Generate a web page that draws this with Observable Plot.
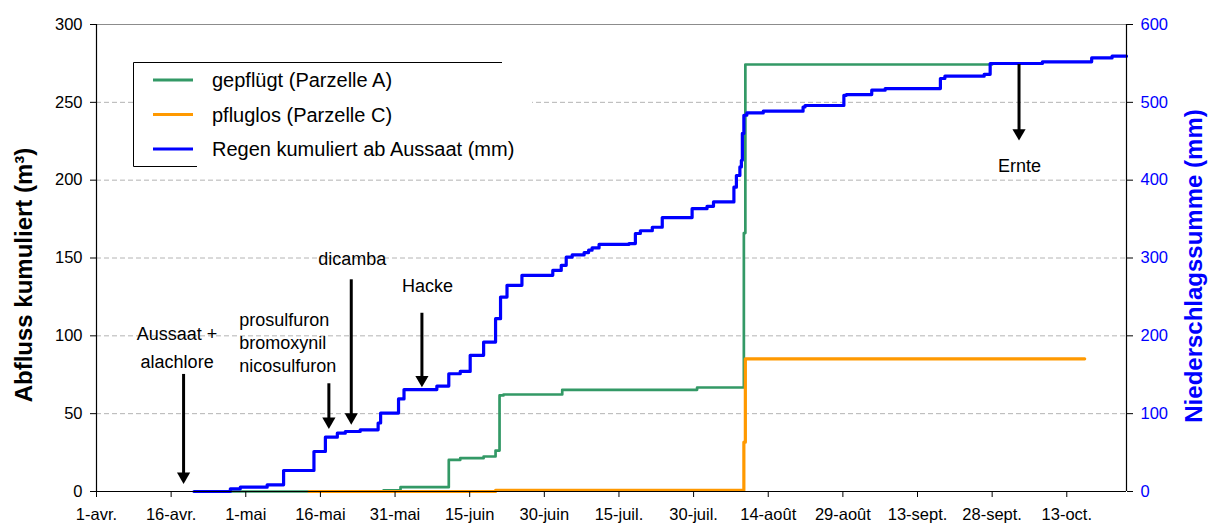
<!DOCTYPE html>
<html><head><meta charset="utf-8">
<script src="https://cdn.jsdelivr.net/npm/d3@7"></script>
<script src="https://cdn.jsdelivr.net/npm/@observablehq/plot@0.6"></script>
<style>body{margin:0;background:#fff;} svg{display:block;}</style>
</head><body><div id="chart"></div>
<script>
// ---- data (days counted from 1 April) ----
const rainDays = [19.6, 26.9, 28.9, 34.3, 37.6, 43.7, 46.0, 48.4, 50.0, 53.0, 56.6, 57.1, 60.7, 61.8, 68.4, 70.8, 73.1, 75.1, 77.8, 80.2, 81.2, 82.5, 85.5, 91.7, 93.4, 94.4, 95.6, 98.0, 98.9, 99.6, 101.0, 107.0, 108.3, 109.3, 111.7, 113.7, 119.7, 122.7, 124.0, 128.1, 128.6, 129.3, 129.6, 129.8, 130.1, 130.7, 134.0, 142.0, 142.4, 150.2, 150.7, 155.8, 158.5, 169.6, 170.5, 178.4, 179.6, 190.1, 200.0, 204.1, 207.0];
const rainMm = [0, 3.4, 5.6, 8.6, 27, 51.4, 69.8, 75, 77.1, 79.3, 88, 100.7, 119, 131, 135.4, 151.3, 154.3, 174.9, 192, 222, 249.8, 264.9, 277.7, 284, 290.6, 301, 304, 307, 310, 313, 317.4, 318.5, 331.5, 335, 339.5, 352, 363.4, 366.4, 372, 391, 406, 417, 425.6, 460, 483.4, 486.4, 488.6, 494, 495.9, 509, 510, 515.6, 517.7, 530.6, 533.6, 536, 549.9, 552, 557, 559.3, 559.3];

const plowDays = [27.0, 57.7, 61.1, 70.8, 73.1, 77.8, 80.2, 81.0, 81.8, 93.6, 120.7, 130.1, 130.4, 180.0];
const plowM3 = [0, 0.8, 2.8, 20.3, 21.4, 22.5, 26.3, 61.7, 62.3, 65.3, 66.8, 166, 274.3, 274.3];

const noPlowDays = [42.7, 80.2, 130.1, 130.4, 198.6];
const noPlowM3 = [0, 0.7, 31.7, 85.2, 85.2];

const tickDates = ["2004-04-01","2004-04-16","2004-05-01","2004-05-16","2004-05-31","2004-06-15","2004-06-30","2004-07-15","2004-07-30","2004-08-14","2004-08-29","2004-09-13","2004-09-28","2004-10-13"];
const tickLabels = ["1-avr.","16-avr.","1-mai","16-mai","31-mai","15-juin","30-juin","15-juil.","30-juil.","14-août","29-août","13-sept.","28-sept.","13-oct."];
const leftTicks = [0, 50, 100, 150, 200, 250, 300];
const rightTickLabels = [0, 100, 200, 300, 400, 500, 600];
const leftMax = 300, rightMax = 600;
const domainStart = "2004-04-01", domainEnd = "2004-10-25";

const arrowDays = [17.5, 46.7, 51.2, 65.4, 185.4];
const arrowFrom = [75.2, 69.2, 136, 114.5, 274.3];
const arrowTo = [4.9, 40.3, 43, 67, 225.5];

const noteTexts = ["Aussaat +\nalachlore", "prosulfuron\nbromoxynil\nnicosulfuron", "dicamba", "Hacke", "Ernte"];
const noteDays = [16.2, 28.7, 51.4, 66.5, 185.5];
const noteValues = [94.3, 96.2, 148.9, 131.8, 208.8];

const seriesNames = ["gepflügt (Parzelle A)", "pfluglos (Parzelle C)", "Regen kumuliert ab Aussaat (mm)"];
const seriesColors = ["#339966", "#FF9900", "#0000FF"];

// ---- build tables ----
const START = Date.UTC(2004, 3, 1);
const toDate = d => new Date(START + d * 86400000);
const parse = s => new Date(s + "T00:00:00Z");
const rain = rainDays.map((d, i) => ({date: toDate(d), v: rainMm[i] * leftMax / rightMax}));
const plow = plowDays.map((d, i) => ({date: toDate(d), v: plowM3[i]}));
const noPlow = noPlowDays.map((d, i) => ({date: toDate(d), v: noPlowM3[i]}));
const arrows = arrowDays.map((d, i) => ({date: toDate(d), y1: arrowFrom[i], y2: arrowTo[i]}));
const notes = noteTexts.map((t, i) => ({text: t, date: toDate(noteDays[i]), v: noteValues[i]}));
const ticks = tickDates.map(parse);
const font = "'Liberation Sans', Arial, Helvetica, sans-serif";

const chart = Plot.plot({
  width: 1208, height: 527,
  marginLeft: 96, marginRight: 82, marginTop: 24, marginBottom: 36,
  style: {fontFamily: font, fontSize: "16.5px", background: "white", color: "black", overflow: "visible"},
  x: {type: "utc", domain: [parse(domainStart), parse(domainEnd)]},
  y: {domain: [0, leftMax]},
  marks: [
    Plot.ruleY(leftTicks.filter(t => t > 0 && t < leftMax), {stroke: "#b4b4b4", strokeDasharray: "5,3", strokeWidth: 1}),
    Plot.ruleY([leftMax], {stroke: "#8c8c8c", strokeWidth: 1}),
    Plot.line(plow, {x: "date", y: "v", curve: "step-after", stroke: seriesColors[0], strokeWidth: 2.7}),
    Plot.line(noPlow, {x: "date", y: "v", curve: "step-after", stroke: seriesColors[1], strokeWidth: 3.2}),
    Plot.line(rain, {x: "date", y: "v", curve: "step-after", stroke: seriesColors[2], strokeWidth: 3.2}),
    Plot.ruleX(arrows, {x: "date", y1: "y1", y2: "y2", stroke: "black", strokeWidth: 3, insetBottom: 6}),
    Plot.dot(arrows, {x: "date", y: "y2", symbol: "triangle", rotate: 180, r: 4.9, fill: "black", stroke: "none", dy: -7.5}),
    Plot.text(notes.slice(0, 1), {x: "date", y: "v", text: "text", fontSize: 18, lineHeight: 1.556, textAnchor: "middle", lineAnchor: "middle", fill: "black"}),
    Plot.text(notes.slice(1, 2), {x: "date", y: "v", text: "text", fontSize: 18, lineHeight: 1.28, textAnchor: "start", lineAnchor: "middle", fill: "black"}),
    Plot.text(notes.slice(2), {x: "date", y: "v", text: "text", fontSize: 18, textAnchor: "middle", lineAnchor: "middle", fill: "black"}),
    Plot.ruleY([0], {stroke: "black", strokeWidth: 1.2}),
    Plot.ruleX([parse(domainStart), parse(domainEnd)], {stroke: "black", strokeWidth: 1.2}),
    Plot.axisX({ticks: ticks, tickFormat: (d, i) => tickLabels[i], tickSize: 6, tickPadding: 11, fontSize: 16.5, label: null, stroke: "black"}),
    Plot.axisY({anchor: "left", ticks: leftTicks, tickSize: 6, tickPadding: 8, fontSize: 16.5, label: null}),
    Plot.axisY({anchor: "right", ticks: leftTicks, tickFormat: (d, i) => rightTickLabels[i], tickSize: 6, tickPadding: 8, fontSize: 16.5, label: null, fill: "#0000FF", stroke: "black"})
  ]
});
document.getElementById("chart").appendChild(chart);

// ---- axis titles and legend ----
const svg = d3.select(chart);
svg.append("text").attr("transform", "translate(32,275) rotate(-90)")
  .attr("text-anchor", "middle").attr("font-family", font).attr("font-size", 24).attr("font-weight", "bold")
  .attr("fill", "black").text("Abfluss kumuliert (m³)");
svg.append("text").attr("transform", "translate(1202,266) rotate(-90)")
  .attr("text-anchor", "middle").attr("font-family", font).attr("font-size", 24).attr("font-weight", "bold")
  .attr("fill", "#0000FF").text("Niederschlagssumme (mm)");

const lg = svg.append("g").attr("text-anchor", "start");
lg.append("rect").attr("x", 133).attr("y", 62).attr("width", 399).attr("height", 105).attr("fill", "white");
lg.append("path").attr("d", "M502,62.5H133.5V166.5H197").attr("fill", "none").attr("stroke", "black").attr("stroke-width", 1);
const rowY = [80, 114.5, 149];
seriesNames.forEach((name, i) => {
  lg.append("line").attr("x1", 153).attr("x2", 193).attr("y1", rowY[i]).attr("y2", rowY[i])
    .attr("stroke", seriesColors[i]).attr("stroke-width", 3);
  lg.append("text").attr("x", 212).attr("y", rowY[i]).attr("dy", "0.35em").attr("text-anchor", "start")
    .attr("font-family", font).attr("font-size", 20).attr("fill", "black").text(name);
});
</script></body></html>
